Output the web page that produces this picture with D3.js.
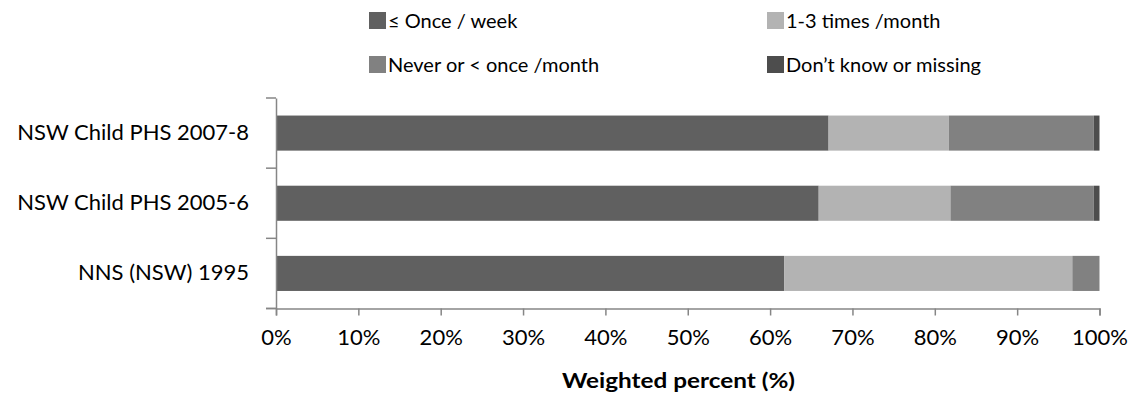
<!DOCTYPE html>
<html>
<head>
<meta charset="utf-8">
<script src="https://cdn.jsdelivr.net/npm/d3@7"></script>
<style>
  body { margin: 0; background: #fff; }
  svg { display: block; font-family: Lato, "Open Sans", sans-serif; }
</style>
</head>
<body>
<svg id="chart" width="1130" height="398"></svg>
<script>
// Survey rows, top to bottom
const categories = ["NSW Child PHS 2007-8", "NSW Child PHS 2005-6", "NNS (NSW) 1995"];
const seriesNames = ["≤ Once / week", "1-3 times /month", "Never or < once /month", "Don’t know or missing"];
// Weighted percent per series, aligned with categories
const onceWeek    = [67.1, 65.9, 61.7];
const oneToThree  = [14.6, 16.0, 35.0];
const neverLess   = [17.6, 17.4, 3.3];
const dontKnow    = [0.7, 0.7, 0.0];
const xTicks = [0, 10, 20, 30, 40, 50, 60, 70, 80, 90, 100];
const colors = ["#606060", "#b3b3b3", "#818181", "#4d4d4d"];

const seriesValues = [onceWeek, oneToThree, neverLess, dontKnow];
const rows = categories.map((c, i) => {
  const r = { category: c };
  seriesNames.forEach((s, k) => r[s] = seriesValues[k][i]);
  return r;
});
const stacked = d3.stack().keys(seriesNames)(rows);

const svg = d3.select("#chart");
const x = d3.scaleLinear().domain([0, 100]).range([276, 1099.5]);
const y = d3.scaleBand().domain(categories).range([98, 308.5]).paddingInner(0.5).paddingOuter(0.25);
const axisColor = "#868686";

// Bars
svg.append("g").selectAll("g").data(stacked).join("g")
  .attr("fill", (d, i) => colors[i])
  .selectAll("rect").data(d => d).join("rect")
    .attr("x", d => x(d[0]))
    .attr("y", d => y(d.data.category))
    .attr("width", d => Math.max(0, x(d[1]) - x(d[0])))
    .attr("height", y.bandwidth());

// Category axis
const yBand = d3.scaleBand().domain(categories).range([98, 308.5]);
const yAxis = svg.append("g").attr("transform", "translate(276,0)")
  .call(d3.axisLeft(yBand).tickSize(0).tickPadding(27));
yAxis.select(".domain").attr("stroke", axisColor).attr("stroke-width", 1.5);
yAxis.selectAll("text").attr("font-size", 22).attr("fill", "#000").attr("font-family", "Lato, sans-serif");
// Category boundary ticks
const bounds = [98].concat(categories.map(c => yBand(c) + yBand.bandwidth()));
svg.append("g").selectAll("line").data(bounds).join("line")
  .attr("x1", 266).attr("x2", 276)
  .attr("y1", d => d).attr("y2", d => d)
  .attr("stroke", axisColor).attr("stroke-width", 1.5);

// Value axis
const xAxis = svg.append("g").attr("transform", "translate(0,308.5)")
  .call(d3.axisBottom(x).tickValues(xTicks).tickFormat(d => d + "%").tickSizeOuter(0).tickSize(7).tickPadding(14));
xAxis.select(".domain").attr("stroke", axisColor).attr("stroke-width", 1.5);
xAxis.selectAll(".tick line").attr("stroke", axisColor).attr("stroke-width", 1.5);
xAxis.selectAll("text").attr("font-size", 22).attr("fill", "#000").attr("font-family", "Lato, sans-serif");
svg.append("line").attr("x1", 266).attr("x2", 276).attr("y1", 308.5).attr("y2", 308.5)
  .attr("stroke", axisColor).attr("stroke-width", 1.5);

svg.append("text").attr("x", 562).attr("y", 388)
  .attr("font-size", 21).attr("font-weight", "bold")
  .attr("textLength", 233).attr("lengthAdjust", "spacingAndGlyphs")
  .text("Weighted percent (%)");

// Legend
const legendPos = [[369, 21], [767, 21], [369, 65], [767, 65]];
const legend = svg.append("g").selectAll("g").data(seriesNames).join("g")
  .attr("transform", (d, i) => `translate(${legendPos[i][0]},${legendPos[i][1]})`);
legend.append("rect").attr("x", 0).attr("y", -9).attr("width", 17).attr("height", 17)
  .attr("fill", (d, i) => colors[i]);
legend.append("text").attr("x", 19).attr("y", 0).attr("dy", "0.35em")
  .attr("font-size", 20).text(d => d);
</script>
</body>
</html>
